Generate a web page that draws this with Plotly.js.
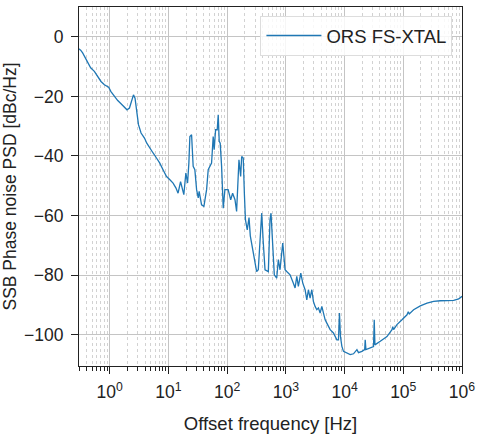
<!DOCTYPE html>
<html>
<head>
<meta charset="utf-8">
<script src="https://cdn.plot.ly/plotly-3.0.1.min.js"></script>
<style>html,body{margin:0;padding:0;background:#fff}#chart{width:477px;height:435px}</style>
</head>
<body>
<div id="chart"></div>
<script>
// Offset frequency [Hz]
const freq = [0.296,0.32,0.346,0.374,0.42,0.474,0.548,0.624,0.711,0.812,0.889,0.961,1.05,1.2,1.37,1.56,1.78,1.97,2.17,2.37,2.54,2.7,2.89,3.09,3.42,3.91,4.28,4.82,5.48,6.22,7.13,8.18,9.29,10.6,12.0,13.4,14.6,16.1,16.9,18.3,19.8,21.2,22.3,23.2,24.8,26.4,28.2,30.2,32.2,33.4,36.7,40.2,44.7,47.6,54.3,57.9,60.2,63.6,67.8,70.5,73.3,76.2,80.5,85.8,91.6,104,115,124,136,145,159,170,177,188,197,205,220,236,248,262,279,298,318,339,373,388,413,442,503,537,559,597,636,699,745,796,851,885,932,969,1035,1180,1343,1436,1535,1634,1796,1942,2127,2274,2421,2588,2767,2946,3150,3367,3586,3835,4100,4366,4668,4990,5680,6467,7393,7870,8185,8511,8995,9578,10944,12470,14200,16230,17270,19730,22020,22470,23100,27370,31140,32000,32880,40530,52730,64150,66200,68390,78050,95050,115700,121600,126500,149900,195000,253700,328700,427500,556800,721600,878800,1000000];
// SSB phase noise PSD [dBc/Hz]
const psd = [-4.0,-4.5,-5.4,-6.7,-8.7,-10.4,-11.6,-13.3,-15.0,-16.1,-16.4,-16.9,-18.4,-20.0,-21.4,-22.5,-23.6,-24.5,-23.9,-21.7,-19.5,-20.6,-25.6,-29.5,-32.3,-34.0,-35.7,-37.1,-39.0,-40.6,-42.4,-44.8,-46.9,-48.0,-49.1,-50.7,-52.5,-48.6,-50.7,-53.0,-45.7,-49.1,-42.4,-33.5,-32.9,-43.5,-44.6,-51.3,-54.1,-51.9,-56.4,-56.9,-51.3,-44.6,-42.4,-33.5,-37.9,-31.2,-31.2,-26.2,-35.1,-35.7,-43.5,-57.5,-51.3,-51.3,-54.7,-52.5,-54.7,-58.6,-41.3,-46.9,-40.2,-40.7,-53.0,-61.4,-64.8,-60.7,-66.8,-69.2,-72.6,-75.8,-78.8,-78.2,-61.4,-59.2,-69.2,-78.2,-78.8,-61.4,-59.2,-71.5,-79.9,-81.0,-74.8,-78.2,-73.7,-69.2,-74.2,-78.2,-78.8,-79.9,-82.7,-84.3,-80.4,-83.8,-79.3,-82.7,-84.9,-88.3,-84.9,-87.7,-84.9,-88.8,-90.5,-91.6,-91.0,-92.7,-90.5,-92.7,-95.0,-96.1,-98.3,-99.4,-101.7,-101.7,-92.7,-100.6,-103.9,-105.6,-106.1,-106.7,-106.4,-105.0,-106.0,-105.6,-105.0,-101.7,-105.0,-104.5,-104.0,-95.0,-103.4,-102.2,-100.6,-98.3,-97.3,-98.3,-96.6,-95.0,-93.3,-92.3,-93.0,-91.6,-90.3,-89.4,-88.8,-88.6,-88.6,-88.5,-88.0,-87.1];
const seriesName = 'ORS FS-XTAL';
const xExponents = [0,1,2,3,4,5,6];
const yTicks = [0,-20,-40,-60,-80,-100];
const yTickLabels = ['0','\u221220','\u221240','\u221260','\u221280','\u2212100'];

const xTickVals = xExponents.map(e => Math.pow(10, e));
const xTickText = xExponents.map(e => '10<sup>' + e + '</sup>');
const minorVals = [];
for (let d = -1; d <= 5; d++) for (let m = 2; m <= 9; m++) minorVals.push(m * Math.pow(10, d));

const fam = 'Liberation Sans, Arial, sans-serif';
const font = {family: fam, color: '#222', size: 17.5};

Plotly.newPlot('chart', [{
  x: freq, y: psd, type: 'scatter', mode: 'lines', name: seriesName,
  line: {color: '#1f77b4', width: 1.3}
}], {
  width: 477, height: 435,
  margin: {l: 79, r: 15, t: 7, b: 69},
  paper_bgcolor: '#fff', plot_bgcolor: '#fff',
  font: font,
  showlegend: true,
  legend: {x: 0.975, y: 0.975, xanchor: 'right', yanchor: 'top',
    itemwidth: 55,
    bgcolor: 'rgba(255,255,255,0.85)', bordercolor: '#dddddd', borderwidth: 1,
    font: {family: fam, size: 18.5, color: '#222'}},
  xaxis: {
    type: 'log', range: [Math.log10(0.3), 6],
    tickvals: xTickVals, ticktext: xTickText,
    ticks: 'outside', ticklen: 7, tickwidth: 1, tickcolor: '#222',
    ticklabelstandoff: 3,
    showline: true, linecolor: '#222', linewidth: 1, mirror: true,
    showgrid: true, gridcolor: '#c4c4c4', gridwidth: 1,
    zeroline: false,
    tickfont: {size: 17.5},
    minor: {tickvals: minorVals, ticks: 'outside', ticklen: 4, tickcolor: '#222', tickwidth: 1,
      showgrid: true, gridcolor: '#d2d2d2', griddash: 'dot', gridwidth: 1},
    title: {text: 'Offset frequency [Hz]', font: {size: 18.5}, standoff: 16}
  },
  yaxis: {
    range: [-110.5, 10],
    tickvals: yTicks, ticktext: yTickLabels,
    ticks: 'outside', ticklen: 7, tickwidth: 1, tickcolor: '#222',
    ticklabelstandoff: 4,
    showline: true, linecolor: '#222', linewidth: 1, mirror: true,
    showgrid: true, gridcolor: '#c4c4c4', gridwidth: 1,
    zeroline: false,
    tickfont: {size: 17.5},
    title: {text: 'SSB Phase noise PSD [dBc/Hz]', font: {size: 17.5}, standoff: 8}
  }
}, {displayModeBar: false, staticPlot: true});
</script>
</body>
</html>
